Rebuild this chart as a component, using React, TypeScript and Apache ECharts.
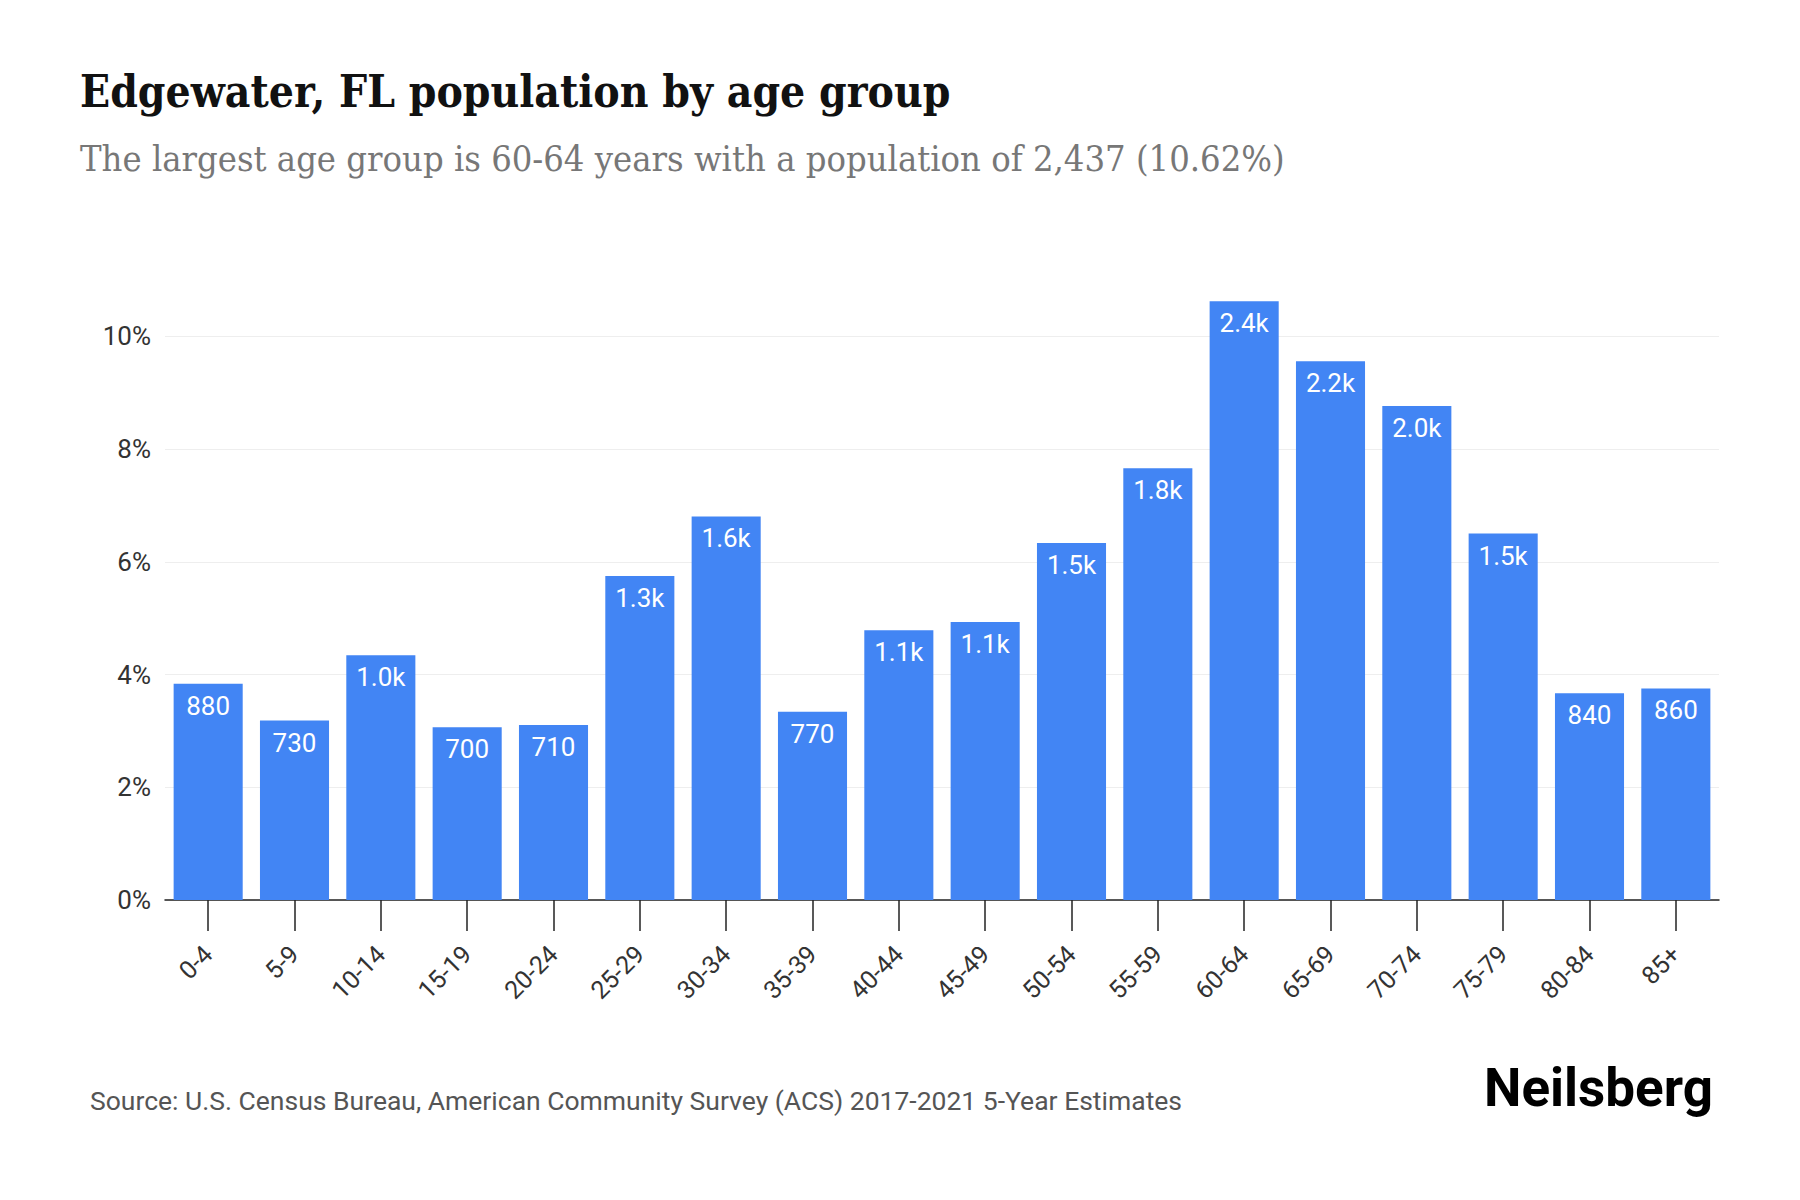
import React, { useEffect, useRef } from "react";
import * as echarts from "echarts";

// Age groups and their population counts (ACS 2017-2021 5-year estimates)
const ageGroups = [
  "0-4", "5-9", "10-14", "15-19", "20-24", "25-29", "30-34", "35-39", "40-44",
  "45-49", "50-54", "55-59", "60-64", "65-69", "70-74", "75-79", "80-84", "85+",
];
const population = [
  880, 730, 996, 703, 712, 1318, 1561, 766, 1098,
  1131, 1453, 1757, 2437, 2192, 2010, 1491, 841, 861,
];
const yTicks = [0, 2, 4, 6, 8, 10];

const titleText = "Edgewater, FL population by age group";
const subtitleText =
  "The largest age group is 60-64 years with a population of 2,437 (10.62%)";
const sourceText =
  "Source: U.S. Census Bureau, American Community Survey (ACS) 2017-2021 5-Year Estimates";
const brandText = "Neilsberg";

const total = population.reduce((a, b) => a + b, 0);
const shares = population.map((p) => (p / total) * 100);

// Compact count: nearest ten below a thousand, one decimal "k" above
function shortCount(v: number): string {
  const tens = Math.round(v / 10) * 10;
  if (tens >= 1000) return (v / 1000).toFixed(1) + "k";
  return String(tens);
}

export default function App() {
  const ref = useRef<HTMLDivElement>(null);

  useEffect(() => {
    if (!ref.current) return;
    const chart = echarts.init(ref.current, null, { renderer: "svg" });
    chart.setOption({
      animation: false,
      backgroundColor: "#ffffff",
      title: [
        {
          text: titleText,
          left: 80,
          top: 69,
          padding: 0,
          textStyle: {
            fontFamily: "'DejaVu Serif Condensed', 'DejaVu Serif'",
            fontWeight: "bold",
            fontSize: 44,
            color: "#111111",
          },
        },
        {
          text: subtitleText,
          left: 80,
          top: 140,
          padding: 0,
          textStyle: {
            fontFamily: "'DejaVu Serif Condensed', 'DejaVu Serif'",
            fontWeight: "normal",
            fontSize: 36,
            color: "#777777",
          },
        },
        {
          text: sourceText,
          left: 90,
          top: 1087,
          padding: 0,
          textStyle: {
            fontFamily: "Roboto",
            fontWeight: "normal",
            fontSize: 26.5,
            color: "#555555",
          },
        },
        {
          text: brandText,
          left: 1484,
          top: 1061,
          padding: 0,
          textStyle: {
            fontFamily: "Roboto",
            fontWeight: "bold",
            fontSize: 53,
            color: "#000000",
          },
        },
      ],
      grid: { left: 165, right: 81, top: 280, bottom: 300, containLabel: false },
      xAxis: {
        type: "category",
        data: ageGroups,
        axisLine: { show: true, lineStyle: { color: "#222222", width: 1.5 } },
        axisTick: {
          show: true,
          alignWithLabel: true,
          length: 31,
          lineStyle: { color: "#222222", width: 1.5 },
        },
        axisLabel: {
          rotate: 45,
          margin: 50,
          fontFamily: "Roboto",
          fontSize: 25,
          color: "#333333",
        },
      },
      yAxis: {
        type: "value",
        min: 0,
        max: 11,
        interval: 2,
        axisLine: { show: false },
        axisTick: { show: false },
        axisLabel: {
          showMaxLabel: false,
          margin: 14,
          fontFamily: "Roboto",
          fontSize: 26,
          color: "#333333",
          formatter: (v: number) => (yTicks.includes(v) ? v + "%" : ""),
        },
        splitLine: {
          show: true,
          showMaxLine: false,
          lineStyle: { color: "#eeeeee", width: 1 },
        },
      },
      series: [
        {
          type: "bar",
          data: shares,
          barCategoryGap: "20%",
          itemStyle: { color: "#4285F4" },
          label: {
            show: true,
            position: "insideTop",
            distance: 9,
            fontFamily: "Roboto",
            fontSize: 26,
            color: "#ffffff",
            formatter: (p: any) => shortCount(population[p.dataIndex]),
          },
        },
      ],
    });
    return () => chart.dispose();
  }, []);

  return (
    <div
      ref={ref}
      style={{ position: "fixed", left: 0, top: 0, width: 1800, height: 1200 }}
    />
  );
}
